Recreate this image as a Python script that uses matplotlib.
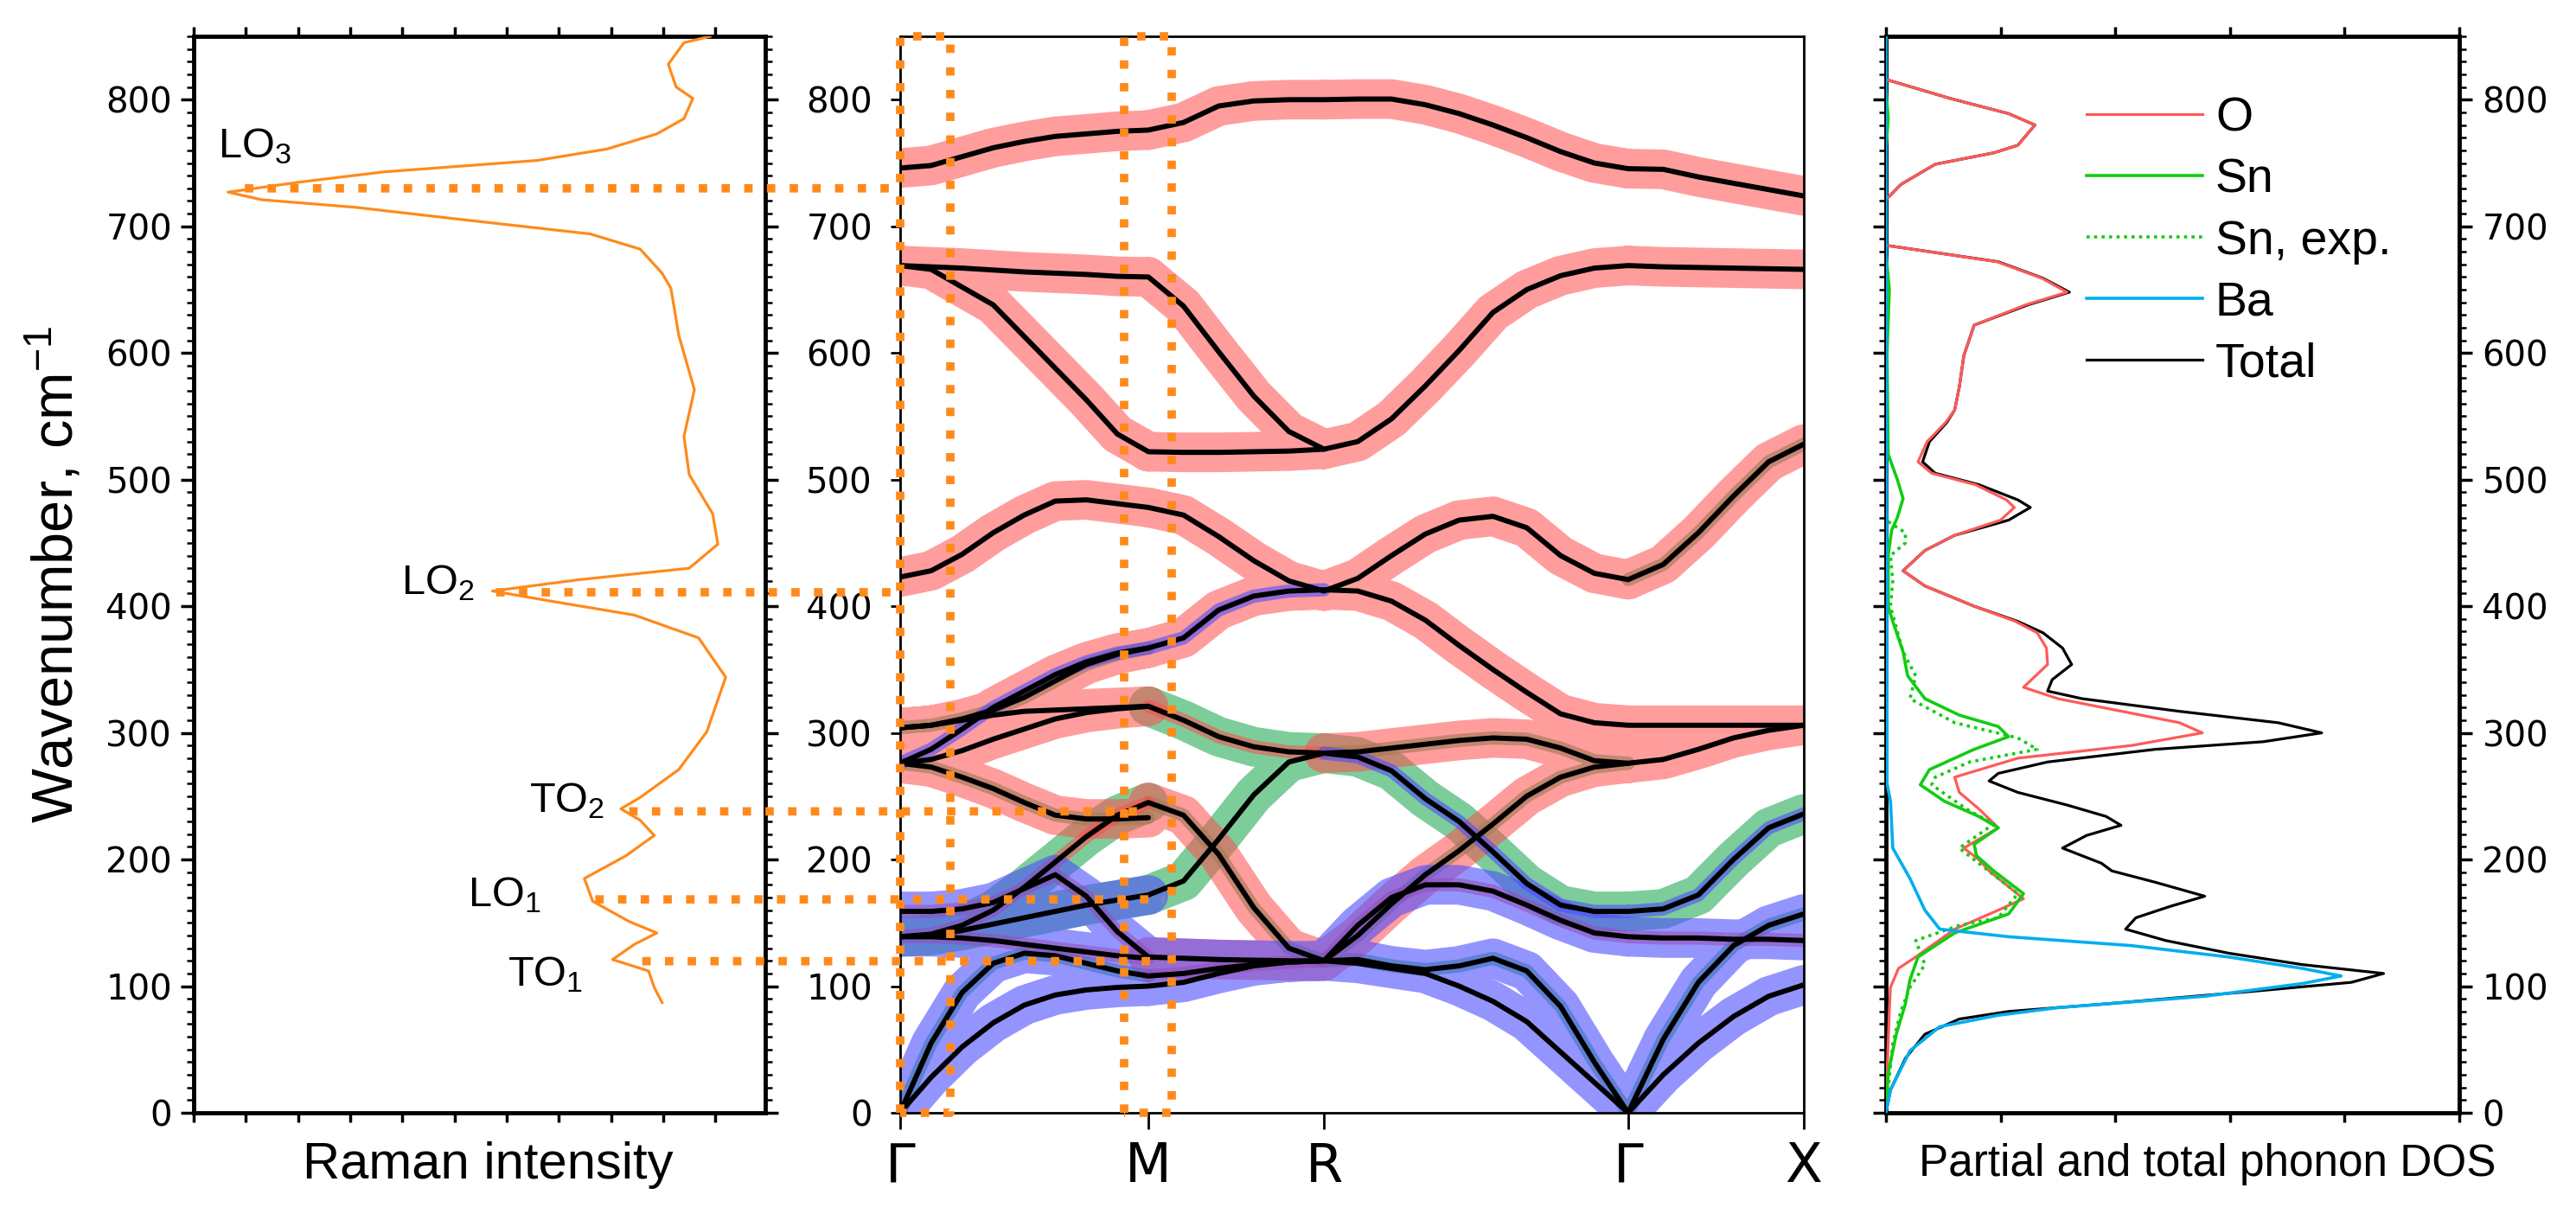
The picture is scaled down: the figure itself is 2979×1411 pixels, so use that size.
import numpy as np
import matplotlib
matplotlib.use('Agg')
import matplotlib.pyplot as plt
from matplotlib.patches import ConnectionPatch
from matplotlib.ticker import MultipleLocator, NullFormatter

plt.rcParams['font.family'] = ['Liberation Sans', 'DejaVu Sans']
plt.rcParams['mathtext.fontset'] = 'custom'
plt.rcParams['mathtext.rm'] = 'Liberation Sans'
plt.rcParams['mathtext.it'] = 'Liberation Sans:italic'
plt.rcParams['mathtext.bf'] = 'Liberation Sans:bold'

N = np.nan
# ---------------- Raman spectrum (left) ----------------
raman_w = [850, 845, 828, 810, 801, 785, 773, 761, 752, 743, 735, 727, 721, 715, 706, 694, 682, 663, 651, 614,
           571, 534, 504, 473, 449, 430, 421, 412, 404, 393, 375, 344, 301, 271, 249, 240, 231, 219, 203, 185,
           167, 151, 142, 133, 121, 112, 99, 87]
raman_i = [9.9, 9.4, 9.1, 9.25, 9.57, 9.4, 8.88, 7.92, 6.58, 3.65, 2.05, 0.66, 1.3, 3.1, 5.0, 7.6, 8.56, 8.98, 9.15, 9.3,
           9.6, 9.4, 9.5, 9.95, 10.05, 9.5, 7.4, 5.73, 6.85, 8.45, 9.68, 10.2, 9.84, 9.3, 8.56, 8.19, 8.56, 8.83, 8.29, 7.49,
           7.65, 8.35, 8.88, 8.45, 8.03, 8.72, 8.83, 8.98]
mode_labels = ['LO$_3$', 'LO$_2$', 'TO$_2$', 'LO$_1$', 'TO$_1$']
mode_label_x = [0.46, 3.98, 6.43, 5.26, 6.02]
mode_label_y = [763, 418, 246, 172, 109]
mode_y = [730, 411, 238, 168.5, 119.7]
mode_line_start = [0.98, 5.8, 8.35, 7.7, 8.6]      # in Raman-intensity units
mode_line_end = [0.0, 0.0, 0.70, 0.75, 0.72]       # in path units of the dispersion panel
box_gamma = [0.0, 0.143]
box_m = [0.637, 0.774]

# ---------------- Phonon dispersion (middle) ----------------
seg_len = [np.sqrt(2) / 2, 0.5, np.sqrt(3) / 2, 0.5]
seg_n = [9, 6, 10, 6]
sym_labels = ['Γ', 'M', 'R', 'Γ', 'X']

bands = {
    'C1': [746, 748, 755, 762, 767, 771, 773, 775, 776, 782, 795, 799, 800, 800,
           800.5, 800.5, 796, 789, 780, 770, 759, 750, 745.5, 745, 739, 734, 729, 724],
    'C2': [669, 668, 667, 665.5, 664, 663, 662, 660.5, 660, 637, 601, 566, 538, 524,
           530, 548, 574, 602, 632, 650, 661, 667, 669, 668, 667.5, 667, 666.5, 666],
    'C3': [669, 666, 652, 638, 613, 588, 563, 536, 522, 521.5, 521.5, 522, 522.5, 524,
           N, N, N, N, N, N, N, N, N, N, N, N, N, N],
    'C4': [423, 428, 441, 458, 472, 483, 484, 481, 478, 472, 455, 436, 420, 412,
           422, 440, 457, 468, 471, 462, 440, 426, 421, 433, 458, 487, 514, 528],
    'C5': [304, 306, 311, 318, 328, 341, 354, 362, 367, 375, 397, 408, 412, 413,
           412, 404, 389, 369, 350, 332, 315, 308, 306, 306, 306, 306, 306, 306],
    'C6': [276, 287, 303, 320, 333, 346, 356, 363, 367, N, N, N, N, N,
           N, N, N, N, N, N, N, N, N, N, N, N, N, N],
    'C7': [304, 306, 310, 314, 317, 318, 319, 320, 321, 310, 297, 289, 285, 284,
           N, N, N, N, N, N, N, N, N, N, N, N, N, N],
    'C11': [276, 279, 286, 295, 303, 311, 316, 319, 321, N, N, N, N, N,
            N, N, N, N, N, N, N, N, N, N, N, N, N, N],
    'P': [N, N, N, N, N, N, N, N, N, N, N, N, N, 284,
          285, 288, 291, 294, 296, 295, 288, 278, 276, 279, 287, 296, 302, 306],
    'Q': [N, N, N, N, N, N, N, N, N, N, N, N, N, 284,
          281, 270, 248, 230, 206, 181, 164, 159, 159, 161, 172, 200, 225, 236],
    'R': [N, N, N, N, N, N, N, N, N, N, N, N, N, 120,
          140, 165, 188, 207, 228, 250, 265, 273, 276, N, N, N, N, N],
    'S': [N, N, N, N, N, N, N, N, N, N, N, N, N, 120,
          148, 170, 180, 180, 175, 164, 152, 142, 139, 138, 138, 137, 137, 136],
    'C9': [159, 159, 161, 166, 177, 188, 171, 143, 123, 122, 121, 120.5, 120, 120,
           N, N, N, N, N, N, N, N, N, N, N, N, N, N],
    'C10': [139, 140, 144, 149, 154, 159, 164, 168, 172, 183, 216, 251, 277, 284,
            N, N, N, N, N, N, N, N, N, N, N, N, N, N],
    'C12': [139, 139, 138, 136, 133, 130, 127, 124, 122, N, N, N, N, N,
            N, N, N, N, N, N, N, N, N, N, N, N, N, N],
    'E1': [276, 273, 265, 256, 245, 235, 232, 232, 233, N, N, N, N, N,
           N, N, N, N, N, N, N, N, N, N, N, N, N, N],
    'E2': [139, 141, 148, 160, 178, 198, 218, 235, 245, 235, 204, 162, 130, 120,
           N, N, N, N, N, N, N, N, N, N, N, N, N, N],
    'A1': [0, 55, 95, 118, 126, 124, 118, 112, 108, 110, 114, 117, 119, 120,
           121, 116, 113, 116, 122, 112, 84, 40, 0, 58, 103, 132, 148, 157],
    'A2': [0, 28, 52, 71, 85, 93, 97, 99, 100, 103, 110, 116, 119, 120,
           118, 114, 110, 100, 88, 72, 48, 24, 0, 30, 55, 76, 92, 101],
}
# atomic character per path segment (G-M, M-R, R-G, G-X): O, S(n), B(a); upper = strong, lower = weak
fat = {
    'C1': ['O', 'O', 'O', 'O'], 'C2': ['O', 'O', 'O', 'O'], 'C3': ['O', 'O', '', ''],
    'C4': ['O', 'O', 'O', 'Os'], 'C5': ['Os', 'Ob', 'O', 'O'], 'C6': ['Ob', '', '', ''],
    'C7': ['O', 'So', '', ''], 'C11': ['O', '', '', ''], 'P': ['', '', 'Os', 'O'],
    'Q': ['', '', 'Sb', 'Sb'], 'R': ['', '', 'Os', ''], 'S': ['', '', 'Bo', 'Bo'],
    'C9': ['Bo', 'OB', '', ''], 'C10': ['SB', 'S', '', ''], 'C12': ['Bo', '', '', ''],
    'E1': ['Os', '', '', ''], 'E2': ['So', 'Os', '', ''],
    'A1': ['Bs', 'Bo', 'Bs', 'Bs'], 'A2': ['B', 'B', 'B', 'B'],
}

# ---------------- Phonon DOS (right) ----------------
tot_w = [0, 18, 43, 62, 74, 80, 86, 96, 103, 110, 117, 126, 136, 145, 154, 163, 171, 182, 191, 197,
         203, 209, 219, 227, 234, 243, 253, 262, 268, 277, 287, 293, 300, 308, 317, 327, 333, 342, 354, 367,
         379, 388, 400, 416, 428, 444, 456, 468, 478, 484, 496, 505, 514, 530, 545, 555, 573, 598, 622, 638,
         648, 659, 672, 685, 721, 733, 749, 758, 764, 780, 789, 801, 816, 850]
tot_v = [0, 0.04, 0.17, 0.34, 0.64, 1.07, 1.92, 3.21, 4.06, 4.34, 3.63, 2.99, 2.44, 2.09, 2.18, 2.48, 2.78, 2.35, 1.97, 1.88,
         1.71, 1.54, 1.75, 2.05, 1.92, 1.58, 1.15, 0.90, 0.98, 1.41, 2.35, 3.29, 3.80, 3.42, 2.56, 1.71, 1.41, 1.45, 1.62, 1.54,
         1.37, 1.15, 0.77, 0.34, 0.15, 0.34, 0.60, 1.07, 1.26, 1.15, 0.81, 0.43, 0.32, 0.38, 0.53, 0.60, 0.64, 0.68, 0.77, 1.24,
         1.60, 1.37, 0.98, 0, 0, 0.13, 0.43, 0.94, 1.15, 1.30, 1.07, 0.56, 0, 0]
o_w = [0, 31, 80, 99, 114, 123, 145, 160, 169, 191, 200, 209, 225, 240, 253, 265, 280, 290, 300, 308,
       327, 336, 354, 367, 379, 388, 400, 416, 428, 444, 456, 468, 478, 484, 496, 505, 514, 530, 545, 555,
       573, 598, 622, 638, 648, 659, 672, 685, 721, 733, 749, 758, 764, 780, 789, 801, 816, 850]
o_v = [0, 0.01, 0.03, 0.04, 0.11, 0.26, 0.60, 0.98, 1.20, 0.90, 0.81, 0.68, 0.98, 0.81, 0.64, 0.60, 1.15, 2.14, 2.76, 2.56,
       1.50, 1.20, 1.41, 1.40, 1.32, 1.13, 0.77, 0.34, 0.15, 0.34, 0.60, 1.00, 1.12, 1.05, 0.78, 0.40, 0.28, 0.36, 0.52, 0.60,
       0.64, 0.68, 0.77, 1.22, 1.58, 1.36, 0.97, 0, 0, 0.13, 0.43, 0.94, 1.15, 1.30, 1.07, 0.56, 0, 0]
sn_w = [0, 31, 62, 86, 105, 123, 142, 157, 173, 191, 203, 212, 225, 234, 246, 259, 271, 287, 297, 305,
        314, 327, 345, 364, 388, 400, 440, 460, 470, 485, 500, 520, 600, 650, 660, 680, 760, 785, 810, 850]
sn_v = [0, 0.02, 0.09, 0.17, 0.21, 0.28, 0.60, 1.07, 1.20, 0.94, 0.79, 0.77, 0.98, 0.81, 0.51, 0.30, 0.38, 0.77, 1.07, 0.98,
        0.64, 0.34, 0.19, 0.15, 0.06, 0.02, 0.02, 0.05, 0.10, 0.15, 0.10, 0.02, 0.01, 0.03, 0.02, 0.0, 0.0, 0.02, 0.0, 0.0]
snexp_w = [0, 55, 80, 99, 117, 136, 148, 154, 173, 197, 209, 228, 240, 259, 265, 277, 287, 296, 308, 327,
           345, 364, 380, 400, 420, 440, 450, 458, 468]
snexp_v = [0, 0.06, 0.13, 0.21, 0.34, 0.26, 0.64, 0.98, 1.15, 0.81, 0.64, 0.94, 0.70, 0.40, 0.43, 0.73, 1.32, 1.15, 0.60, 0.21,
           0.26, 0.15, 0.10, 0.04, 0.06, 0.04, 0.17, 0.17, 0.0]
ba_w = [0, 18, 49, 68, 77, 83, 92, 102, 108, 114, 123, 132, 139, 145, 160, 185, 209, 246, 260, 300, 850]
ba_v = [0, 0.04, 0.21, 0.47, 0.98, 1.50, 2.78, 3.63, 3.97, 3.63, 2.99, 2.14, 1.07, 0.47, 0.34, 0.21, 0.06, 0.04, 0.01, 0.01, 0.0]
dos_labels = ['O', 'Sn', 'Sn, exp.', 'Ba', 'Total']

# ---------------- styles ----------------
orange = '#FF8A1C'
dot_ls = (0, (1.0, 1.7))
fat_col = {'O': (1.0, 0.30, 0.30), 'S': (0.22, 0.70, 0.40), 'B': (0.30, 0.30, 1.0)}
fat_alpha = {'O': 0.55, 'S': 0.65, 'B': 0.6}
c_O, c_Sn, c_Ba = '#FF5A5A', '#12CC12', '#00AEEF'
tick_font = 'DejaVu Sans'
tick_size = 29

fig = plt.figure(figsize=(29.79, 14.11), dpi=100)
axL = fig.add_axes([0.0752, 0.0879, 0.2219, 0.8823])
axM = fig.add_axes([0.3494, 0.0879, 0.3508, 0.8823])
axR = fig.add_axes([0.7321, 0.0879, 0.2226, 0.8823])

# ---- left panel ----
axL.plot(raman_i, raman_w, color=orange, lw=2.3, zorder=3)
axL.set_xlim(0, 10.96)
axL.set_ylim(0, 850)
for sp in axL.spines.values():
    sp.set_linewidth(3.5)
axL.xaxis.set_major_locator(MultipleLocator(1))
axL.xaxis.set_major_formatter(NullFormatter())
axL.tick_params(axis='x', which='major', direction='out', length=8, width=2.5, top=True, bottom=True)
axL.yaxis.set_major_locator(MultipleLocator(100))
axL.yaxis.set_minor_locator(MultipleLocator(10))
axL.tick_params(axis='y', which='major', direction='out', length=11, width=2.5, left=True, right=True,
                labelsize=tick_size, pad=7)
axL.tick_params(axis='y', which='minor', direction='out', length=6, width=1.8, left=True, right=True)
axL.set_ylabel('Wavenumber, cm$^{-1}$', fontsize=48)
axL.yaxis.set_label_coords(-0.19, 0.5)
axL.text(0.515, -0.061, 'Raman intensity', transform=axL.transAxes, ha='center', va='baseline', fontsize=43)
for lab, lx, ly in zip(mode_labels, mode_label_x, mode_label_y):
    axL.text(lx, ly, lab, fontsize=35, ha='left', va='center')

# ---- middle panel ----
k = [0.0]
start = 0.0
for L, n in zip(seg_len, seg_n):
    k.extend(np.linspace(start, start + L, n)[1:])
    start += L
k = np.array(k)
sym_pos = np.concatenate([[0.0], np.cumsum(seg_len)])
bounds = np.cumsum([0] + [n - 1 for n in seg_n])
seg_idx = [(bounds[i], bounds[i + 1]) for i in range(4)]

layers = {(s, w): ([], []) for s in 'SOB' for w in ('full', 'core')}
for name, spec in fat.items():
    yv = np.array(bands[name], float)
    for si, code in enumerate(spec):
        a, b = seg_idx[si]
        for ch in code:
            s = ch.upper()
            w = 'full' if ch.isupper() else 'core'
            xs, ys = layers[(s, w)]
            xs.extend(list(k[a:b + 1]) + [np.nan])
            ys.extend(list(yv[a:b + 1]) + [np.nan])
z = 1
for s in 'SOB':
    for w in ('full', 'core'):
        xs, ys = layers[(s, w)]
        if xs:
            axM.plot(xs, ys, color=fat_col[s], alpha=fat_alpha[s], lw=33 if w == 'full' else 11,
                     solid_capstyle='round', solid_joinstyle='round', zorder=z)
        z += 0.1
for name, yv in bands.items():
    axM.plot(k, yv, color='black', lw=4.3, zorder=4, solid_capstyle='round', solid_joinstyle='round')

for x0, x1 in (box_gamma, box_m):
    axM.plot([x0, x0, x1, x1, x0], [0, 850, 850, 0, 0], color=orange, lw=7, ls=dot_ls,
             dash_capstyle='butt', clip_on=False, zorder=6)

axM.set_xlim(0, sym_pos[-1])
axM.set_ylim(0, 850)
axM.set_xticks(sym_pos)
axM.set_xticklabels(sym_labels, fontsize=45, fontfamily='DejaVu Sans')
axM.set_yticks(np.arange(0, 801, 100))
axM.tick_params(axis='x', direction='out', length=14, width=2, pad=10)
axM.tick_params(axis='y', direction='out', length=8, width=2, labelsize=tick_size, pad=15)
for sp in axM.spines.values():
    sp.set_linewidth(2.0)

for xs_, yv_, xe_ in zip(mode_line_start, mode_y, mode_line_end):
    con = ConnectionPatch(xyA=(xs_, yv_), coordsA=axL.transData, xyB=(xe_, yv_), coordsB=axM.transData,
                          color=orange, lw=7, linestyle=dot_ls, capstyle='butt', zorder=6)
    fig.add_artist(con)

# ---- right panel ----
axR.plot(tot_v, tot_w, color='black', lw=2.3, label=dos_labels[4], zorder=2)
axR.plot(o_v, o_w, color=c_O, lw=2.3, label=dos_labels[0], zorder=3)
axR.plot(sn_v, sn_w, color=c_Sn, lw=2.6, label=dos_labels[1], zorder=4)
axR.plot(snexp_v, snexp_w, color=c_Sn, lw=2.6, ls=(0, (1, 1.4)), label=dos_labels[2], zorder=4)
axR.plot(ba_v, ba_w, color=c_Ba, lw=2.6, label=dos_labels[3], zorder=5)
axR.set_xlim(0, 5)
axR.set_ylim(0, 850)
for sp in axR.spines.values():
    sp.set_linewidth(3.5)
axR.xaxis.set_major_locator(MultipleLocator(1))
axR.xaxis.set_major_formatter(NullFormatter())
axR.tick_params(axis='x', which='major', direction='out', length=8, width=2.5, top=True, bottom=True)
axR.yaxis.set_major_locator(MultipleLocator(100))
axR.yaxis.set_minor_locator(MultipleLocator(10))
axR.tick_params(axis='y', which='major', direction='out', length=11, width=2.5, left=True, right=True,
                labelleft=False, labelright=True, labelsize=tick_size, pad=8)
axR.tick_params(axis='y', which='minor', direction='out', length=6, width=1.8, left=True, right=True)
axR.text(0.561, -0.0586, 'Partial and total phonon DOS', transform=axR.transAxes, ha='center',
         va='baseline', fontsize=37)
h, l = axR.get_legend_handles_labels()
order = [l.index(s) for s in dos_labels]
axR.legend([h[i] for i in order], [l[i] for i in order], loc='upper left', bbox_to_anchor=(0.35, 0.944),
           frameon=False, fontsize=40, borderpad=0, borderaxespad=0, handlelength=2.41,
           handletextpad=0.27, labelspacing=0.34)

for ax in (axL, axM, axR):
    for t in ax.get_yticklabels():
        t.set_fontfamily(tick_font)

fig.savefig('out.png', dpi=100)
